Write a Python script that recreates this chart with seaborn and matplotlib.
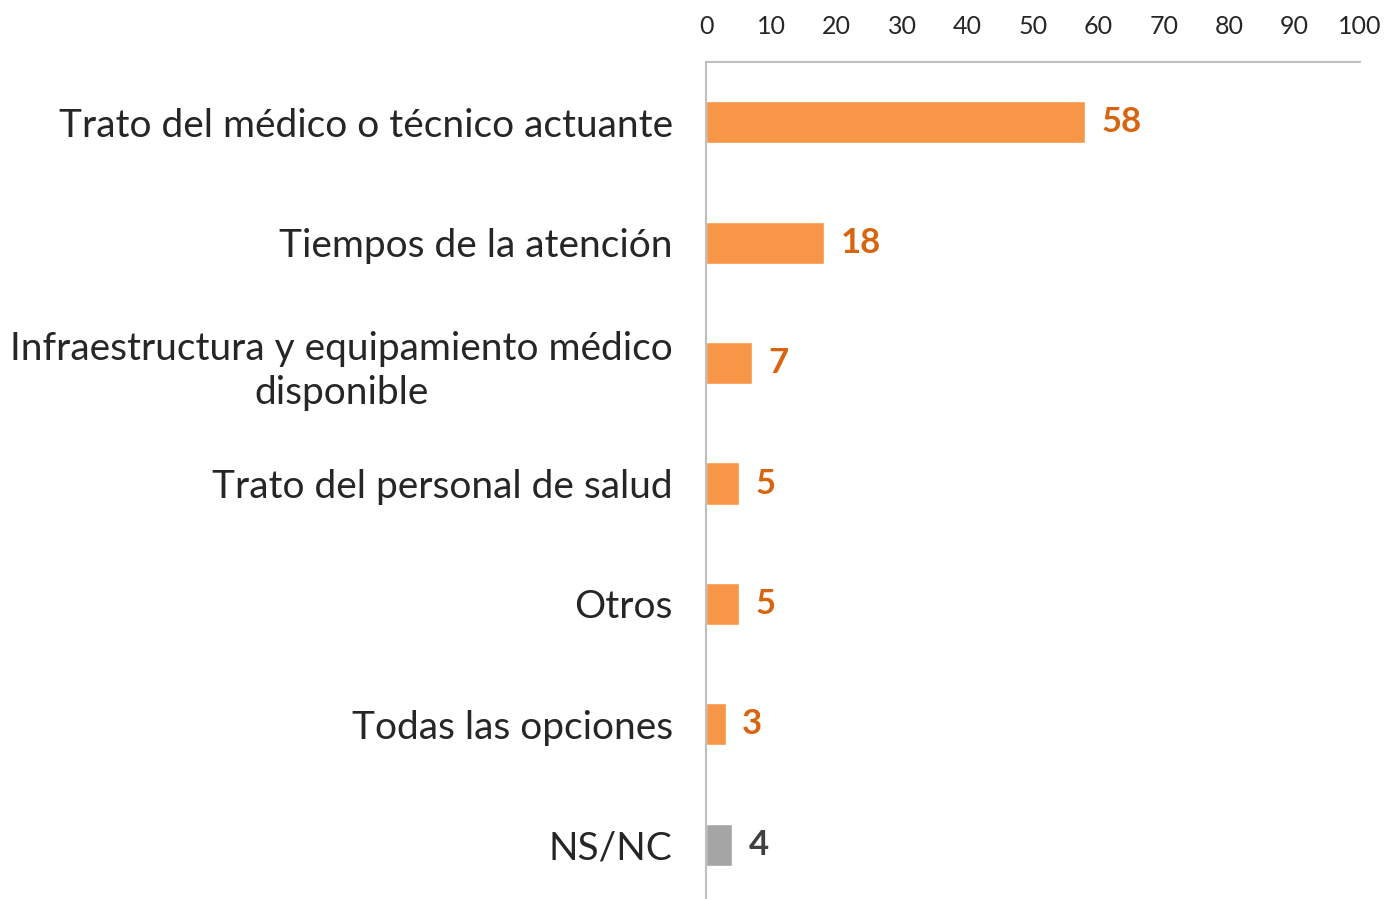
import matplotlib
matplotlib.use("Agg")
import matplotlib.pyplot as plt
import seaborn as sns
import pandas as pd

# data
categorias = [
    "Trato del médico o técnico actuante",
    "Tiempos de la atención",
    "Infraestructura y equipamiento médico\ndisponible",
    "Trato del personal de salud",
    "Otros",
    "Todas las opciones",
    "NS/NC",
]
valores = [58, 18, 7, 5, 5, 3, 4]
colores_barra = ["#F79646"] * 6 + ["#A5A5A5"]
colores_valor = ["#D9640F"] * 6 + ["#404040"]
ticks_x = [0, 10, 20, 30, 40, 50, 60, 70, 80, 90, 100]

df = pd.DataFrame({"cat": categorias, "val": valores})

sns.set_style("white")
plt.rcParams["font.family"] = ["Lato", "DejaVu Sans"]

fig = plt.figure(figsize=(13.86, 8.99), dpi=100)
ax = fig.add_axes([706 / 1386, 0, (1360 - 706) / 1386, (899 - 62) / 899])

sns.barplot(data=df, y="cat", x="val", hue="cat", palette=colores_barra,
            legend=False, width=0.35, saturation=1, ax=ax)

# value labels
for i, cont in enumerate(ax.containers):
    ax.bar_label(cont, labels=[str(valores[i])], padding=12, fontsize=25,
                 fontweight="bold", color=colores_valor[i])

ax.set_xlim(0, 100)
ax.set_ylim(6.45, -0.5)
ax.set_xticks(ticks_x)
ax.xaxis.tick_top()
ax.tick_params(axis="x", length=0, labelsize=18, pad=17, colors="#262626")
ax.tick_params(axis="y", length=0, labelsize=28, pad=24, colors="#262626")
ax.set_yticks(range(len(categorias)))
ax.set_yticklabels(categorias, multialignment="center", linespacing=1.3)
ax.set_xlabel("")
ax.set_ylabel("")

for s in ["right", "bottom"]:
    ax.spines[s].set_visible(False)
for s in ["top", "left"]:
    ax.spines[s].set_color("#BFBFBF")
    ax.spines[s].set_linewidth(1.5)

fig.savefig("out.png", dpi=100)
